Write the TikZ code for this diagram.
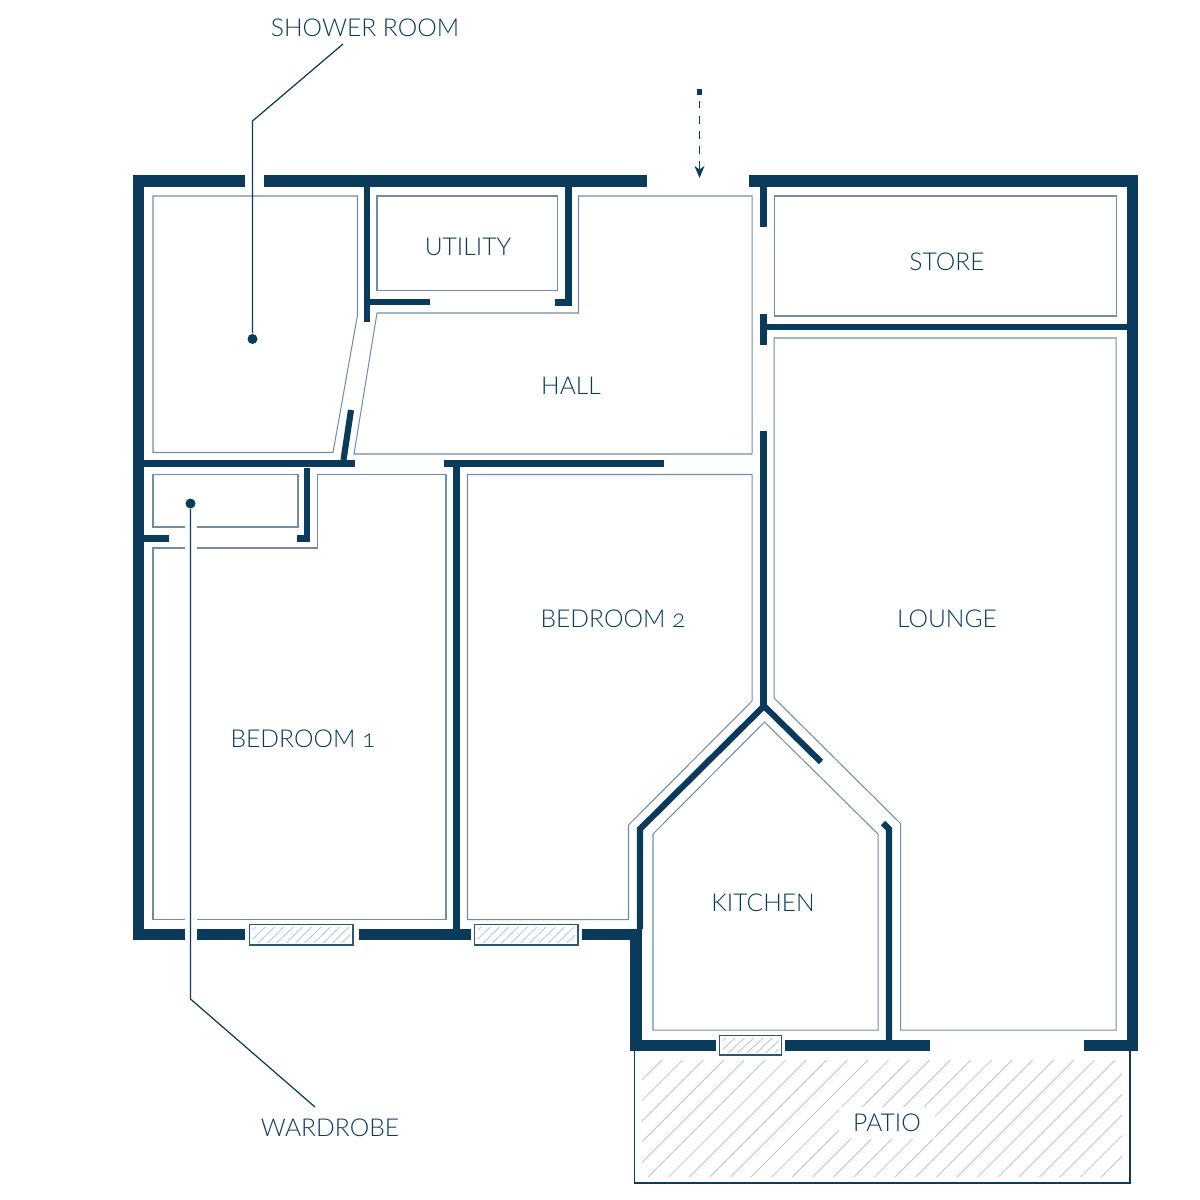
\documentclass[tikz,border=0pt]{standalone}
\usepackage{fontspec}
\setmainfont{Lato Light}[Numbers=OldStyle]
\usetikzlibrary{arrows.meta}
\definecolor{planblue}{HTML}{0A3B5B}
\definecolor{roomline}{HTML}{6F8DA5}
\definecolor{hatchline}{HTML}{B5C7D5}
\tikzset{
  outerwall/.style={draw=planblue, line width=3.4pt},
  innerwall/.style={draw=planblue, line width=1.75pt},
  room/.style={draw=roomline, line width=0.29pt},
  leader/.style={draw=planblue, line width=0.35pt},
  dot/.style={circle, fill=planblue, inner sep=0pt, minimum size=0.1cm},
  label/.style={text=planblue, font=\fontsize{7pt}{9pt}\selectfont, inner sep=1pt},
  window/.style={draw=roomline!35!planblue, fill=white, line width=0.42pt},
  hatch/.style={draw=hatchline, line width=0.24pt}
}
\begin{document}
\begin{tikzpicture}[x=0.01cm, y=-0.01cm]
  \useasboundingbox (0, 0) rectangle (1200, 1200);
  % rooms
  \draw [room] (153, 196) -- (357.5, 196) -- (357.5, 315) -- (333, 452.5) -- (153, 452.5) -- cycle;
  \draw [room] (377, 196) -- (557.5, 196) -- (557.5, 290.5) -- (377, 290.5) -- cycle;
  \draw [room] (578.5, 196) -- (752, 196) -- (752, 454) -- (354, 454) -- (377, 313) -- (578.5, 313) -- cycle;
  \draw [room] (774, 196) -- (1116, 196) -- (1116, 316) -- (774, 316) -- cycle;
  \draw [room] (774, 338) -- (1116, 338) -- (1116, 1030) -- (900.5, 1030) -- (900.5, 823.5) -- (774, 698) -- cycle;
  \draw [room] (653, 1030) -- (653, 834) -- (764.5, 722) -- (878, 834) -- (878, 1030) -- cycle;
  \draw [room] (467.5, 474.5) -- (752, 474.5) -- (752, 701) -- (628.5, 825) -- (628.5, 919.5) -- (467.5, 919.5) -- cycle;
  \draw [room] (185, 527) -- (153, 527) -- (153, 474.5) -- (298, 474.5) -- (298, 527) -- (197, 527);
  \draw [room] (185, 548) -- (153, 548) -- (153, 919.5) -- (185, 919.5);
  \draw [room] (197, 919.5) -- (446, 919.5) -- (446, 474.5) -- (317.5, 474.5) -- (317.5, 548) -- (197, 548);
  % outer walls
  \draw [outerwall] (244.5, 181) -- (138.5, 181) -- (138.5, 934.5) -- (185, 934.5);
  \draw [outerwall] (263.5, 181) -- (646.5, 181);
  \draw [outerwall] (749, 181) -- (1132.5, 181) -- (1132.5, 1045.5) -- (1084, 1045.5);
  \draw [outerwall] (197, 934.5) -- (244.5, 934.5);
  \draw [outerwall] (358.5, 934.5) -- (471, 934.5);
  \draw [outerwall] (581.5, 934.5) -- (636, 934.5) -- (636, 1045.5) -- (716, 1045.5);
  \draw [outerwall] (785, 1045.5) -- (930, 1045.5);
  % inner walls
  \draw [innerwall] (367, 187) -- (367, 322);
  \draw [innerwall] (370, 302) -- (430, 302);
  \draw [innerwall] (351, 410) -- (343.5, 460);
  \draw [innerwall] (144, 463.5) -- (355, 463.5);
  \draw [innerwall] (444, 463.5) -- (664, 463.5);
  \draw [innerwall] (456.5, 463.5) -- (456.5, 929);
  \draw [innerwall] (307, 468) -- (307, 538.5) -- (297, 538.5);
  \draw [innerwall] (144, 538.5) -- (169, 538.5);
  \draw [innerwall] (568.5, 187) -- (568.5, 302.5) -- (555, 302.5);
  \draw [innerwall] (763.5, 187) -- (763.5, 227);
  \draw [innerwall] (763.5, 314) -- (763.5, 345);
  \draw [innerwall] (763.5, 327) -- (1127, 327);
  \draw [innerwall] (763.5, 431) -- (763.5, 706);
  \draw [innerwall] (640, 929) -- (640, 829) -- (764, 706) -- (821, 762);
  \draw [innerwall] (883, 823) -- (889, 829) -- (889, 1040);
  % windows
  \foreach \xa/\xb/\ya/\yb in {249.5/353/924.5/945, 474.5/578/924.5/945, 719.5/781.5/1035.5/1055} {
    \draw [window] (\xa, \ya) rectangle (\xb, \yb);
    \begin{scope}
      \clip (\xa+3, \ya+3) rectangle (\xb-3, \yb-3);
      \foreach \k in {0, ..., 14} {
        \draw [hatch] ({\xa-12+9.3*\k}, \yb) -- ({\xa+9+9.3*\k}, \ya);
      }
    \end{scope}
  }
  % patio
  \begin{scope}
    \clip (642, 1060) rectangle (1122, 1177);
    \foreach \k in {-6, ..., 23} {
      \draw [hatch] ({648+20.6*\k}, 1177) -- ({648+117+20.6*\k}, 1060);
    }
  \end{scope}
  \draw [draw=planblue, line width=0.55pt] (634.5, 1051) -- (634.5, 1183) -- (1130, 1183) -- (1130, 1051);
  \node [label, fill=white, inner xsep=0.14cm, inner ysep=0.07cm] (patio) at (887, 1123) {PATIO};
  % labels
  \node [label] (showerlabel) at (365, 28) {SHOWER ROOM};
  \node [label] (utility) at (468, 247) {UTILITY};
  \node [label] (hall) at (571, 386) {HALL};
  \node [label] (store) at (947, 262) {STORE};
  \node [label] (lounge) at (947, 619) {LOUNGE};
  \node [label] (bedtwo) at (613, 619) {BEDROOM 2};
  \node [label] (bedone) at (303, 739) {BEDROOM 1};
  \node [label] (kitchen) at (763, 903) {KITCHEN};
  \node [label] (wardrobelabel) at (330, 1128) {WARDROBE};
  % leaders
  \node [dot] (showerdot) at (252.5, 339) {};
  \node [dot] (wardrobedot) at (190.5, 503.5) {};
  \coordinate (showerfree) at (343, 44);
  \coordinate (showerbend) at (252.5, 121);
  \coordinate (wardrobefree) at (315, 1107);
  \coordinate (wardrobebend) at (190.5, 999);
  \draw [leader] (showerfree) -- (showerbend) -- (showerdot);
  \draw [leader] (wardrobefree) -- (wardrobebend) -- (wardrobedot);
  % entrance
  \node [fill=planblue, inner sep=0pt, minimum size=0.055cm] (entry) at (699.5, 92) {};
  \coordinate (door) at (699.5, 178);
  \draw [planblue, line width=0.35pt, dash pattern=on 2.1pt off 2.2pt, -{Stealth[length=0.12cm, width=0.1cm, inset=0.035cm]}] (entry) ++(0, 9) -- (door);
\end{tikzpicture}
\end{document}
